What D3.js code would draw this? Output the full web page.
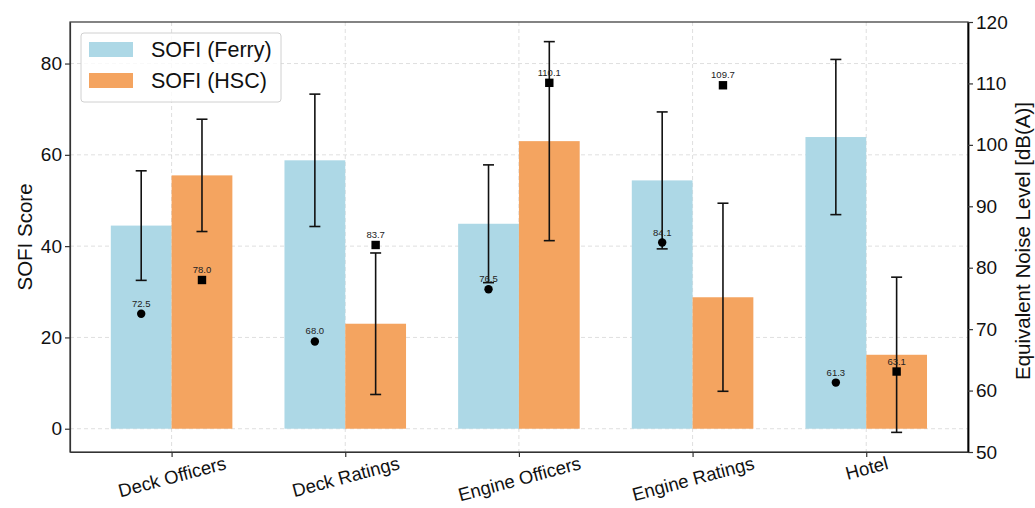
<!DOCTYPE html>
<html><head><meta charset="utf-8">
<script src="https://cdn.jsdelivr.net/npm/d3@7"></script>
<style>body{margin:0;background:#fff}svg{font-family:"Liberation Sans",Arial,sans-serif}</style>
</head><body><svg id="c" width="1035" height="508"></svg>
<script>
const categories = ["Deck Officers","Deck Ratings","Engine Officers","Engine Ratings","Hotel"];
const sofiFerry = [44.5, 58.8, 44.9, 54.4, 63.9];
const sofiFerryErr = [12.0, 14.5, 12.9, 15.0, 17.0];
const sofiHSC = [55.5, 23.0, 63.0, 28.8, 16.2];
const sofiHSCErr = [12.3, 15.5, 21.8, 20.6, 17.0];
const noiseFerry = [72.5, 68.0, 76.5, 84.1, 61.3];
const noiseHSC = [78.0, 83.7, 110.1, 109.7, 63.1];
const leftTicks = [0, 20, 40, 60, 80];
const rightTicks = [50, 60, 70, 80, 90, 100, 110, 120];
const seriesNames = ["SOFI (Ferry)", "SOFI (HSC)"];
const colors = ["#add8e6", "#f4a460"];

const FONT = '"Liberation Sans",Arial,sans-serif';
const svg = d3.select("#c");
const L = 70, R = 968, T = 22, B = 452;
const bw = 0.35;
const x = d3.scaleLinear().domain([-0.585, 4.586]).range([L, R]);
const y = d3.scaleLinear().domain([-5.1, 89.1]).range([B, T]);
const y2 = d3.scaleLinear().domain([50, 120]).range([B, T]);
const pxw = x(bw) - x(0);

// grid
const g = svg.append("g");
g.selectAll(".gy").data(leftTicks).join("line")
  .attr("x1", L).attr("x2", R).attr("y1", d => y(d)).attr("y2", d => y(d))
  .attr("stroke", "#b0b0b0").attr("stroke-opacity", 0.5).attr("stroke-dasharray", "4,3").attr("stroke-width", 0.8);
g.selectAll(".gx").data(categories).join("line")
  .attr("x1", (d,i) => x(i)).attr("x2", (d,i) => x(i)).attr("y1", T).attr("y2", B)
  .attr("stroke", "#b0b0b0").attr("stroke-opacity", 0.5).attr("stroke-dasharray", "4,3").attr("stroke-width", 0.8);

// bars
const bars = svg.append("g");
bars.selectAll(".bf").data(sofiFerry).join("rect")
  .attr("x", (d,i) => x(i - bw)).attr("width", pxw)
  .attr("y", d => y(d)).attr("height", d => y(0) - y(d)).attr("fill", colors[0]);
bars.selectAll(".bh").data(sofiHSC).join("rect")
  .attr("x", (d,i) => x(i)).attr("width", pxw)
  .attr("y", d => y(d)).attr("height", d => y(0) - y(d)).attr("fill", colors[1]);

// error bars
function errbars(vals, errs, off) {
  const eg = svg.append("g").attr("stroke", "#111").attr("stroke-width", 1.6);
  vals.forEach((v, i) => {
    const cx = x(i + off);
    eg.append("line").attr("x1", cx).attr("x2", cx).attr("y1", y(v - errs[i])).attr("y2", y(v + errs[i]));
    [v - errs[i], v + errs[i]].forEach(e => eg.append("line").attr("x1", cx - 5.5).attr("x2", cx + 5.5).attr("y1", y(e)).attr("y2", y(e)));
  });
}
errbars(sofiFerry, sofiFerryErr, -bw/2);
errbars(sofiHSC, sofiHSCErr, bw/2);

// noise markers
const mk = svg.append("g");
mk.selectAll(".cf").data(noiseFerry).join("circle")
  .attr("cx", (d,i) => x(i - bw/2)).attr("cy", d => y2(d)).attr("r", 4.2).attr("fill", "#000");
mk.selectAll(".sh").data(noiseHSC).join("rect")
  .attr("x", (d,i) => x(i + bw/2) - 4.2).attr("y", d => y2(d) - 4.2).attr("width", 8.4).attr("height", 8.4).attr("fill", "#000");
mk.selectAll(".tf").data(noiseFerry).join("text")
  .attr("x", (d,i) => x(i - bw/2)).attr("y", d => y2(d) - 7).attr("text-anchor", "middle")
  .attr("font-size", 9.5).attr("fill", "#222").text(d => d.toFixed(1));
mk.selectAll(".th").data(noiseHSC).join("text")
  .attr("x", (d,i) => x(i + bw/2)).attr("y", d => y2(d) - 7).attr("text-anchor", "middle")
  .attr("font-size", 9.5).attr("fill", "#222").text(d => d.toFixed(1));

// frame
svg.append("rect").attr("x", L).attr("y", T).attr("width", R - L).attr("height", B - T)
  .attr("fill", "none").attr("stroke", "#333").attr("stroke-width", 1.2);

// axes
const axL = svg.append("g").attr("transform", `translate(${L},0)`)
  .call(d3.axisLeft(y).tickValues(leftTicks).tickSizeInner(5).tickSizeOuter(0).tickPadding(3));
const axR = svg.append("g").attr("transform", `translate(${R},0)`)
  .call(d3.axisRight(y2).tickValues(rightTicks).tickSizeInner(5).tickSizeOuter(0).tickPadding(3));
const axB = svg.append("g").attr("transform", `translate(0,${B})`)
  .call(d3.axisBottom(x).tickValues(d3.range(categories.length)).tickFormat(i => categories[i]).tickSizeInner(5).tickSizeOuter(0));
[axL, axR].forEach(a => {
  a.selectAll("text").attr("font-size", 19).attr("fill", "#111").attr("font-family", FONT);
});
axB.selectAll("text").attr("font-size", 18.5).attr("fill", "#111").attr("font-family", FONT);
[axL, axR, axB].forEach(a => a.selectAll(".tick line").attr("stroke", "#333").attr("stroke-width", 1.2));
axL.select(".domain").attr("stroke", "#333").attr("stroke-width", 1.2);
axB.select(".domain").attr("stroke", "#333").attr("stroke-width", 1.2);
axR.select(".domain").attr("stroke", "#000").attr("stroke-width", 1.8);

// rotated category labels: top of rotated box aligned just below ticks
const ang = 15 * Math.PI / 180;
axB.selectAll(".tick text").each(function() {
  const t = d3.select(this);
  const len = this.getComputedTextLength();
  const h = 18.5 * 0.95;
  const cy = 2 + (len * Math.sin(ang) + h * Math.cos(ang)) / 2;
  t.attr("y", 0).attr("dy", "0.35em").attr("text-anchor", "middle")
   .attr("transform", `translate(0,${cy}) rotate(-15)`);
});

// axis titles
svg.append("text").attr("transform", `translate(32,237) rotate(-90)`)
  .attr("text-anchor", "middle").attr("font-size", 20.5).attr("fill", "#111").text("SOFI Score");
svg.append("text").attr("transform", `translate(1030,241) rotate(-90)`)
  .attr("text-anchor", "middle").attr("font-size", 20.5).attr("fill", "#111").text("Equivalent Noise Level [dB(A)]");

// legend
const lg = svg.append("g").attr("transform", "translate(81,33)");
lg.append("rect").attr("width", 200).attr("height", 69).attr("rx", 3)
  .attr("fill", "#fff").attr("fill-opacity", 0.8).attr("stroke", "#d0d0d0");
seriesNames.forEach((s, i) => {
  lg.append("rect").attr("x", 8).attr("y", 9 + i * 31).attr("width", 44).attr("height", 15).attr("fill", colors[i]);
  lg.append("text").attr("x", 70).attr("y", 24 + i * 31).attr("font-size", 21.5).attr("fill", "#111").text(s);
});
</script></body></html>
